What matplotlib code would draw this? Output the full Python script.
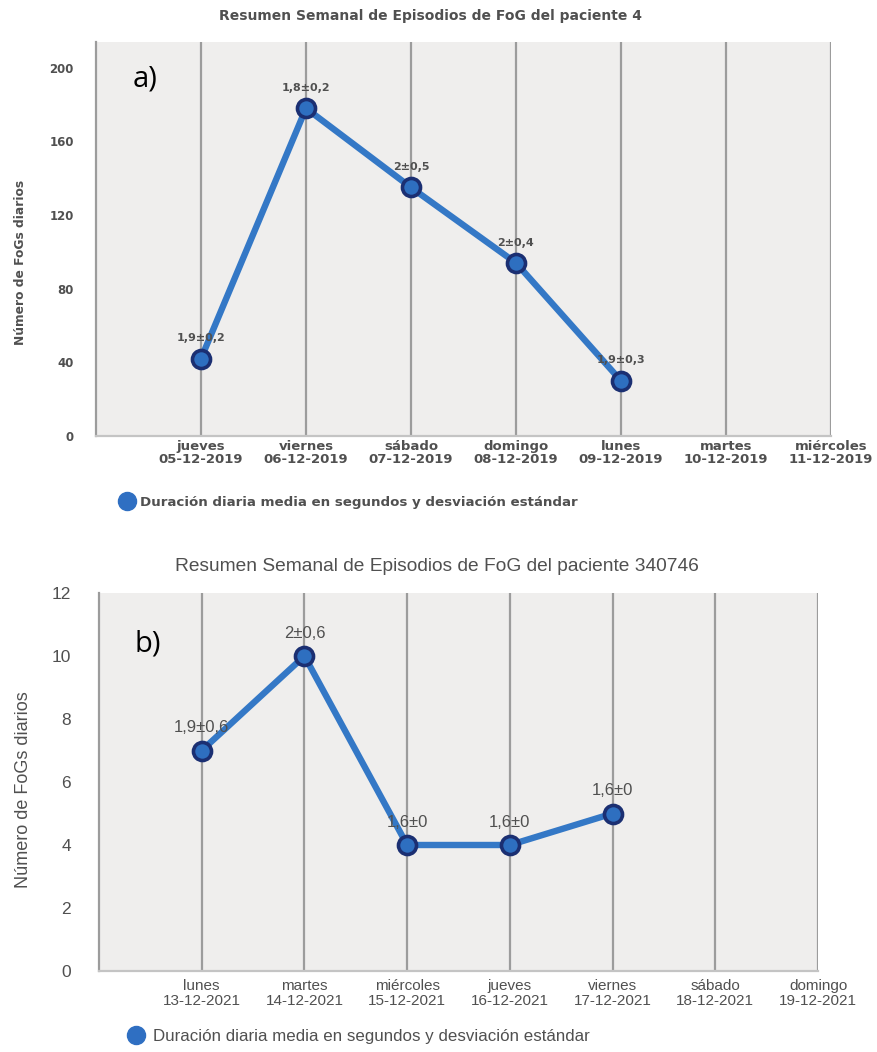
import matplotlib.pyplot as plt
from matplotlib.lines import Line2D

# Panel a: patient 4, week of 05-12-2019
dias_a = ["jueves", "viernes", "sábado", "domingo", "lunes", "martes", "miércoles"]
fechas_a = ["05-12-2019", "06-12-2019", "07-12-2019", "08-12-2019",
            "09-12-2019", "10-12-2019", "11-12-2019"]
fogs_a = [42, 178, 135, 94, 30]
etiquetas_a = ["1,9±0,2", "1,8±0,2", "2±0,5", "2±0,4", "1,9±0,3"]
yticks_a = [0, 40, 80, 120, 160, 200]

# Panel b: patient 340746, week of 13-12-2021
dias_b = ["lunes", "martes", "miércoles", "jueves", "viernes", "sábado", "domingo"]
fechas_b = ["13-12-2021", "14-12-2021", "15-12-2021", "16-12-2021",
            "17-12-2021", "18-12-2021", "19-12-2021"]
fogs_b = [7, 10, 4, 4, 5]
etiquetas_b = ["1,9±0,6", "2±0,6", "1,6±0", "1,6±0", "1,6±0"]
yticks_b = [0, 2, 4, 6, 8, 10, 12]

LINEA = "#3478c6"
RELLENO = "#2e6fc0"
BORDE = "#1b2f72"
FONDO = "#efeeed"
REJILLA = "#9c9c9c"
TEXTO = "#505050"

fig = plt.figure(figsize=(8.78, 10.52), dpi=100)


def panel(rect, dias, fechas, valores, etiquetas, yticks, ylim, titulo,
          letra, fam, tam):
    ax = fig.add_axes(rect)
    ax.set_facecolor(FONDO)
    x = list(range(1, len(dias) + 1))
    ax.set_xlim(0, len(dias))
    ax.set_ylim(*ylim)
    for xi in x:
        ax.axvline(xi, color=REJILLA, lw=1.6, zorder=1)
    for s in ["top", "right"]:
        ax.spines[s].set_visible(False)
    ax.spines["left"].set_color(REJILLA)
    ax.spines["left"].set_linewidth(1.6)
    ax.spines["bottom"].set_color("#c4c4c4")
    ax.spines["bottom"].set_linewidth(1.6)

    xs = x[:len(valores)]
    ax.plot(xs, valores, color=LINEA, lw=4.6, zorder=3,
            marker="o", ms=13, mfc=RELLENO, mec=BORDE, mew=2.6)
    for xi, v, t in zip(xs, valores, etiquetas):
        ax.annotate(t, (xi, v), xytext=(0, 11), textcoords="offset points",
                    ha="center", va="bottom", fontsize=tam["punto"],
                    color=TEXTO, family=fam, fontweight=tam["peso"], zorder=4)

    ax.set_xticks(x)
    ax.set_xticklabels([d + "\n" + f for d, f in zip(dias, fechas)],
                       fontsize=tam["xtick"], color=TEXTO, family=fam,
                       fontweight=tam["peso"], linespacing=tam["interl"])
    ax.set_yticks(yticks)
    ax.set_yticklabels([str(t) for t in yticks], fontsize=tam["ytick"],
                       color=TEXTO, family=fam, fontweight=tam["peso"])
    ax.tick_params(axis="x", length=0, pad=tam["xpad"])
    ax.tick_params(axis="y", length=0, pad=tam["ypad"])
    ax.set_ylabel("Número de FoGs diarios", fontsize=tam["ylabel"],
                  color=TEXTO, family=fam, fontweight=tam["peso"],
                  labelpad=tam["ylabpad"])
    ax.yaxis.label.set_y(tam["ylab_y"])
    ax.set_title(titulo, fontsize=tam["titulo"], color=TEXTO, family=fam,
                 fontweight=tam["peso"], pad=tam["titpad"], x=tam["titx"])
    ax.text(0.05, tam["letra_y"], letra, transform=ax.transAxes, fontsize=21,
            family="Open Sans", color="black", va="center", ha="left")

    marca = Line2D([], [], linestyle="none", marker="o", ms=13,
                   mfc="#2f6fc2", mec="#2f6fc2")
    ax.legend([marca], ["Duración diaria media en segundos y desviación estándar"],
              loc="center left", bbox_to_anchor=tam["leg"], frameon=False,
              handletextpad=0.4, borderaxespad=0, handlelength=1.2,
              prop={"family": fam, "size": tam["leyenda"],
                    "weight": tam["peso"]}, labelcolor=TEXTO)
    return ax


tam_a = {"punto": 8, "xtick": 9.5, "ytick": 8.5, "ylabel": 8.8, "titulo": 10,
         "leyenda": 9.6, "peso": "bold", "ypad": 16, "ylabpad": 16,
         "titpad": 16, "titx": 0.455, "xpad": 3, "interl": 0.95,
         "letra_y": 0.905, "leg": (0.024, -0.168), "ylab_y": 0.44}
tam_b = {"punto": 12, "xtick": 11, "ytick": 12.5, "ylabel": 13,
         "titulo": 13.8, "leyenda": 12.2, "peso": "normal", "ypad": 20,
         "ylabpad": 14, "titpad": 16, "titx": 0.47, "xpad": 6, "interl": 1.1,
         "letra_y": 0.865, "leg": (0.028, -0.172), "ylab_y": 0.48}

panel([96 / 878, 1 - 436 / 1052, 735 / 878, 394 / 1052], dias_a, fechas_a,
      fogs_a, etiquetas_a, yticks_a, (0, 214),
      "Resumen Semanal de Episodios de FoG del paciente 4", "a)",
      "DejaVu Sans", tam_a)
panel([99 / 878, 1 - 971 / 1052, 719 / 878, 378 / 1052], dias_b, fechas_b,
      fogs_b, etiquetas_b, yticks_b, (0, 12),
      "Resumen Semanal de Episodios de FoG del paciente 340746", "b)",
      "Liberation Sans", tam_b)

fig.savefig("out.png", dpi=100, facecolor="white")
